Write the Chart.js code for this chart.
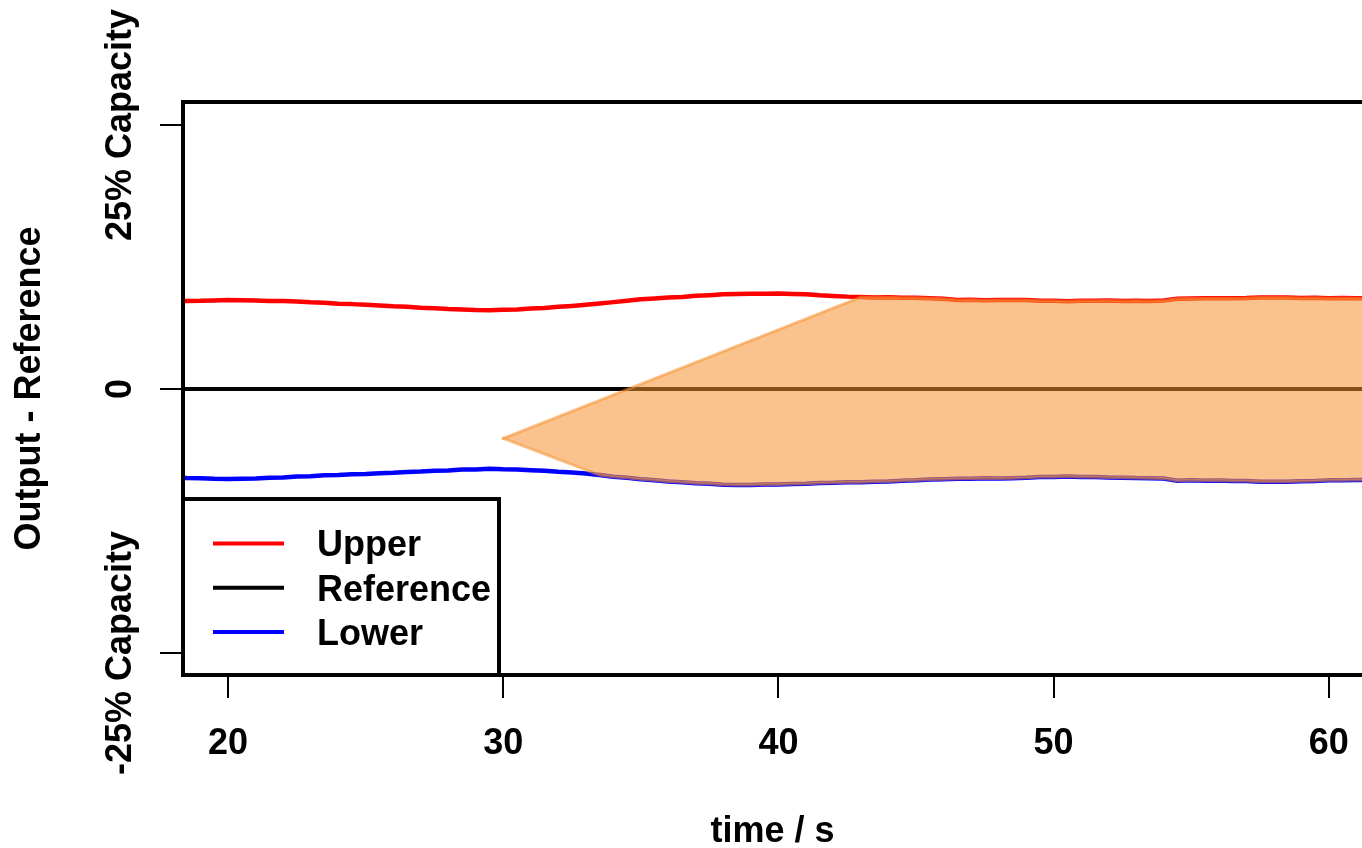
<!DOCTYPE html>
<html>
<head>
<meta charset="utf-8">
<title>Output - Reference</title>
<script src="https://cdn.jsdelivr.net/npm/chart.js@4"></script>
<style>
  html, body { margin: 0; padding: 0; background: #fff; overflow: hidden; }
  #wrap { position: relative; width: 1362px; height: 848px; }
</style>
</head>
<body>
<div id="wrap"><canvas id="myChart"></canvas></div>
<script>
// sample times (s)
const time = [
  18.0, 18.5, 19.0, 19.5, 20.0, 20.5, 21.0, 21.5, 22.0, 22.5,
  23.0, 23.5, 24.0, 24.5, 25.0, 25.5, 26.0, 26.5, 27.0, 27.5,
  28.0, 28.5, 29.0, 29.5, 30.0, 30.5, 31.0, 31.5, 32.0, 32.5,
  33.0, 33.5, 34.0, 34.5, 35.0, 35.5, 36.0, 36.5, 37.0, 37.5,
  38.0, 38.5, 39.0, 39.5, 40.0, 40.5, 41.0, 41.5, 42.0, 42.5,
  43.0, 43.5, 44.0, 44.5, 45.0, 45.5, 46.0, 46.5, 47.0, 47.5,
  48.0, 48.5, 49.0, 49.5, 50.0, 50.5, 51.0, 51.5, 52.0, 52.5,
  53.0, 53.5, 54.0, 54.5, 55.0, 55.5, 56.0, 56.5, 57.0, 57.5,
  58.0, 58.5, 59.0, 59.5, 60.0, 60.5, 61.0, 61.5
];
const upper = [
  8.31, 8.34, 8.35, 8.39, 8.42, 8.40, 8.39, 8.34, 8.33, 8.29,
  8.21, 8.16, 8.08, 8.04, 7.97, 7.92, 7.84, 7.79, 7.70, 7.65,
  7.57, 7.54, 7.48, 7.47, 7.51, 7.54, 7.62, 7.67, 7.79, 7.87,
  7.97, 8.09, 8.23, 8.37, 8.51, 8.58, 8.67, 8.72, 8.83, 8.89,
  8.97, 8.99, 9.03, 9.02, 9.04, 9.00, 8.97, 8.87, 8.82, 8.75,
  8.71, 8.66, 8.69, 8.65, 8.65, 8.59, 8.54, 8.44, 8.45, 8.41,
  8.44, 8.43, 8.42, 8.36, 8.35, 8.32, 8.36, 8.35, 8.38, 8.34,
  8.37, 8.34, 8.38, 8.55, 8.57, 8.60, 8.59, 8.60, 8.61, 8.67,
  8.67, 8.67, 8.63, 8.64, 8.60, 8.63, 8.59, 8.60
];
const lower = [
  -8.38, -8.43, -8.44, -8.49, -8.51, -8.49, -8.47, -8.40, -8.37, -8.29,
  -8.25, -8.16, -8.13, -8.06, -8.04, -7.97, -7.93, -7.86, -7.82, -7.75,
  -7.71, -7.63, -7.61, -7.56, -7.60, -7.61, -7.68, -7.73, -7.84, -7.90,
  -8.00, -8.15, -8.30, -8.41, -8.54, -8.63, -8.75, -8.82, -8.92, -8.97,
  -9.06, -9.08, -9.09, -9.05, -9.05, -9.00, -8.97, -8.90, -8.88, -8.83,
  -8.82, -8.78, -8.76, -8.68, -8.64, -8.56, -8.54, -8.50, -8.49, -8.45,
  -8.48, -8.44, -8.41, -8.34, -8.32, -8.29, -8.34, -8.34, -8.38, -8.39,
  -8.43, -8.44, -8.48, -8.68, -8.65, -8.68, -8.67, -8.71, -8.72, -8.78,
  -8.79, -8.79, -8.73, -8.71, -8.65, -8.65, -8.61, -8.62
];
const refTime = [18.0, 61.5];
const reference = [0, 0];

// shaded region: opens from a single point and then follows the two bounds
const bandApex = { x: 30, y: -4.67 };
const bandUpperFrom = 43.0;
const bandLowerFrom = 33.5;

const xTicks = [20, 30, 40, 50, 60];
const yTicks = [-25, 0, 25];
const yTickLabels = ['-25% Capacity', '0', '25% Capacity'];

const FONT = "'Liberation Sans', Arial, sans-serif";
const bandFill = 'rgba(246, 145, 50, 0.55)';
const bandEdge = 'rgba(246, 145, 50, 0.55)';

const toPoints = (xs, ys) => xs.map((x, i) => ({ x: x, y: ys[i] }));
const upperPts = toPoints(time, upper);
const lowerPts = toPoints(time, lower);
const bandTop = [bandApex].concat(upperPts.filter(p => p.x >= bandUpperFrom));
const bandBottom = [bandApex].concat(lowerPts.filter(p => p.x >= bandLowerFrom));

Chart.defaults.font.family = FONT;
Chart.defaults.color = '#000';

// box round the plot, right side runs off the page
const frame = {
  id: 'frame',
  afterDraw(chart) {
    const { ctx, chartArea: a } = chart;
    ctx.save();
    ctx.lineWidth = 4;
    ctx.strokeStyle = '#000';
    ctx.strokeRect(a.left, a.top, a.right - a.left + 20, a.bottom - a.top);
    ctx.restore();
  }
};

// vertical labels on the y axis
const yLabels = {
  id: 'yLabels',
  afterDraw(chart) {
    const { ctx, chartArea: a } = chart;
    const ys = chart.scales.y;
    ctx.save();
    ctx.fillStyle = '#000';
    ctx.font = 'bold 36px ' + FONT;
    ctx.textAlign = 'center';
    ctx.textBaseline = 'alphabetic';
    yTicks.forEach((v, i) => {
      ctx.save();
      ctx.translate(a.left - 52, ys.getPixelForValue(v));
      ctx.rotate(-Math.PI / 2);
      ctx.fillText(yTickLabels[i], 0, 0);
      ctx.restore();
    });
    ctx.restore();
  }
};

// legend in the bottom-left corner of the plot
const legendBox = {
  id: 'legendBox',
  afterDraw(chart) {
    const { ctx, chartArea: a } = chart;
    const w = 316, h = 176;
    const top = a.bottom - h;
    ctx.save();
    ctx.fillStyle = '#fff';
    ctx.fillRect(a.left, top, w, h);
    ctx.lineWidth = 4;
    ctx.strokeStyle = '#000';
    ctx.strokeRect(a.left, top, w, h);
    ctx.font = 'bold 36px ' + FONT;
    ctx.textBaseline = 'middle';
    ctx.textAlign = 'left';
    const items = chart.data.datasets.filter(d => d.label);
    items.forEach((d, i) => {
      const y = top + 44.5 + i * 44.2;
      ctx.strokeStyle = d.borderColor;
      ctx.lineWidth = 4;
      ctx.beginPath();
      ctx.moveTo(a.left + 30, y);
      ctx.lineTo(a.left + 101, y);
      ctx.stroke();
      ctx.fillStyle = '#000';
      ctx.fillText(d.label, a.left + 134, y + 3);
    });
    ctx.restore();
  }
};

new Chart(document.getElementById('myChart'), {
  type: 'line',
  data: {
    datasets: [
      { label: '', data: bandTop, borderColor: bandEdge, borderWidth: 3, fill: false, order: 0 },
      { label: '', data: bandBottom, borderColor: bandEdge, borderWidth: 3, backgroundColor: bandFill, fill: '-1', order: 0 },
      { label: 'Upper', data: upperPts, borderColor: '#ff0000', borderWidth: 4.5, fill: false, order: 1 },
      { label: 'Reference', data: toPoints(refTime, reference), borderColor: '#000000', borderWidth: 4, fill: false, order: 1 },
      { label: 'Lower', data: lowerPts, borderColor: '#0000ff', borderWidth: 4.5, fill: false, order: 1 }
    ]
  },
  options: {
    responsive: true,
    maintainAspectRatio: false,
    animation: false,
    layout: { padding: { top: 102, left: 0, right: 0, bottom: 0 } },
    elements: {
      point: { radius: 0, hoverRadius: 0 },
      line: { tension: 0, borderCapStyle: 'round', borderJoinStyle: 'round' }
    },
    plugins: {
      legend: { display: false },
      tooltip: { enabled: false }
    },
    scales: {
      x: {
        type: 'linear',
        min: 18.36,
        max: 61.21,
        afterBuildTicks: (s) => { s.ticks = xTicks.map(v => ({ value: v })); },
        afterFit: (s) => { s.height = 173; s.paddingLeft = 0; s.paddingRight = 0; },
        border: { display: false },
        grid: { display: true, drawOnChartArea: false, drawTicks: true, tickLength: 23, color: '#000', lineWidth: 2 },
        ticks: { autoSkip: false, maxRotation: 0, padding: 24, color: '#000', font: { size: 36, weight: 'bold' } },
        title: { display: true, text: 'time / s', color: '#000', font: { size: 36, weight: 'bold', lineHeight: 1 }, padding: { top: 0, bottom: -2 } }
      },
      y: {
        type: 'linear',
        min: -27.08,
        max: 27.18,
        afterBuildTicks: (s) => { s.ticks = yTicks.map(v => ({ value: v })); },
        afterFit: (s) => { s.width = 183; s.paddingTop = 0; s.paddingBottom = 0; },
        border: { display: false },
        grid: { display: true, drawOnChartArea: false, drawTicks: true, tickLength: 23, color: '#000', lineWidth: 2 },
        ticks: { display: false },
        title: { display: true, text: 'Output - Reference', color: '#000', font: { size: 36, weight: 'bold', lineHeight: 1 }, padding: { top: 12.5, bottom: 0 } }
      }
    }
  },
  plugins: [frame, yLabels, legendBox]
});
</script>
</body>
</html>
